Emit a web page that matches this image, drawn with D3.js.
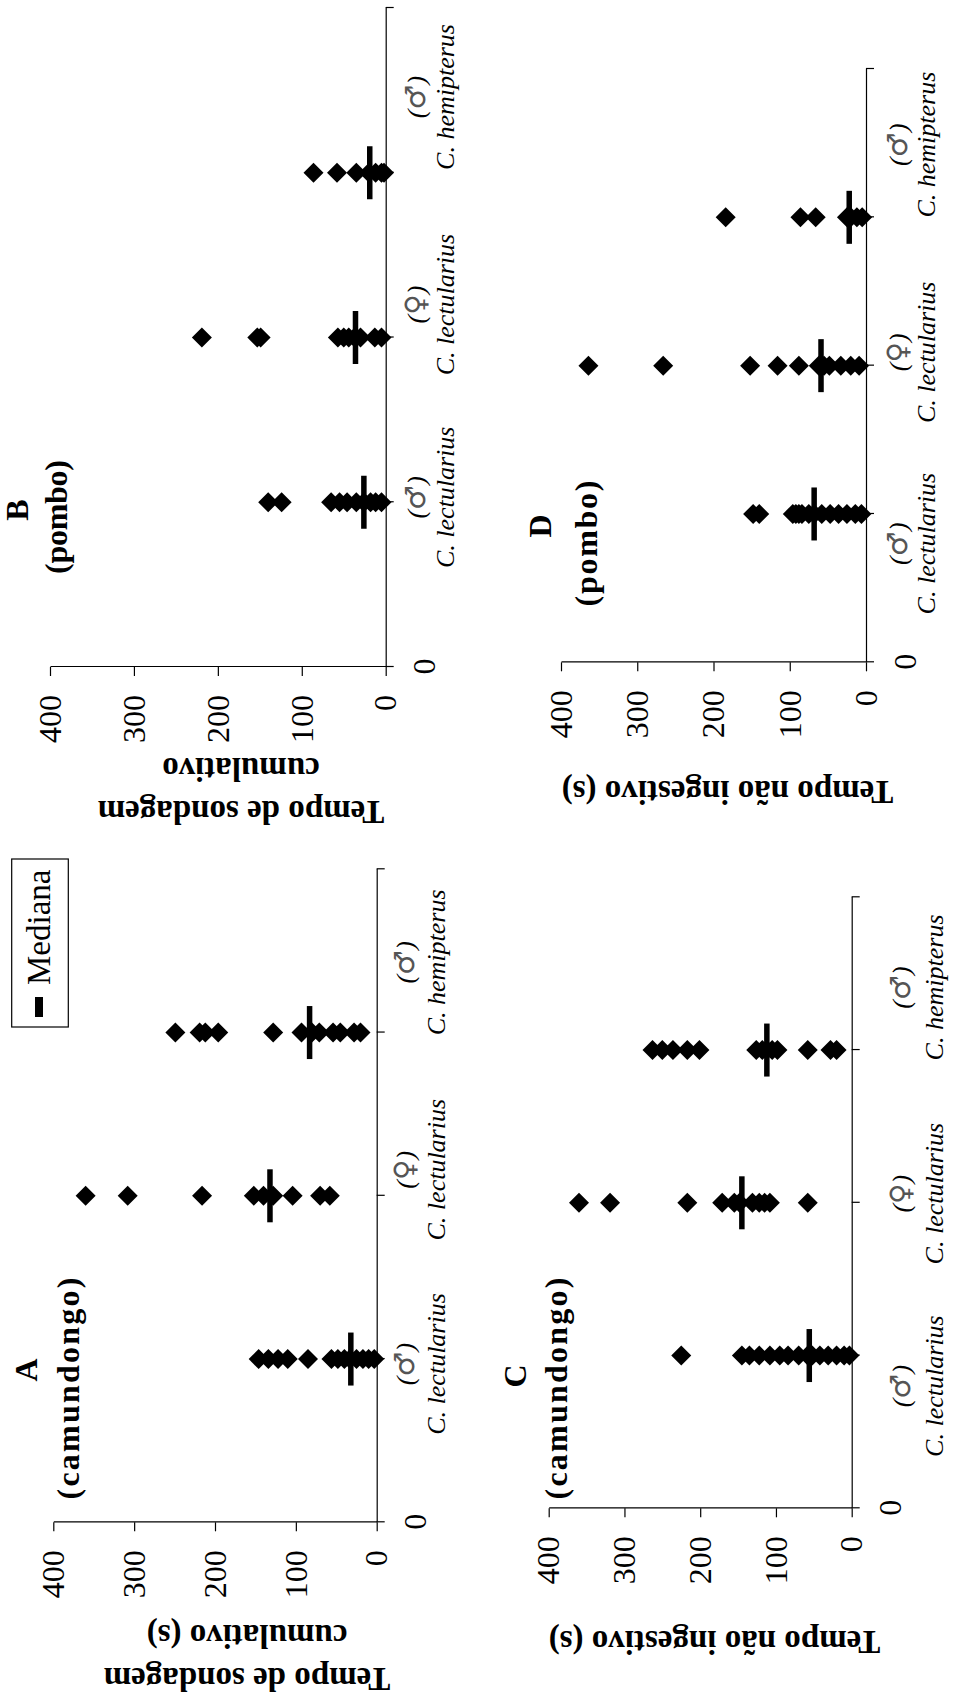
<!DOCTYPE html>
<html>
<head>
<meta charset="utf-8">
<script src="https://cdn.jsdelivr.net/npm/d3@7"></script>
<style>
  body { margin: 0; background: #fff; }
  svg { display: block; font-family: 'Liberation Serif', 'Times New Roman', serif; }
</style>
</head>
<body>
<svg id="fig" width="953" height="1705"></svg>
<script>
// categories (sexo + espécie)
const sexes = ['♂', '♀', '♂']
const species = ['C. lectularius', 'C. lectularius', 'C. hemipterus']
const valueTicks = [0, 100, 200, 300, 400]

// A - tempo de sondagem cumulativo, camundongo
const sondCamundongo = [
  [146, 134, 122, 110, 85, 56, 48, 40, 33, 25, 17, 10, 3],
  [360, 308, 216, 152, 140, 128, 104, 70, 58],
  [249, 219, 212, 196, 128, 93, 80, 71, 54, 45, 28, 20]
]
const sondCamundongoMed = [32, 132, 83]

// B - tempo de sondagem cumulativo, pombo
const sondPombo = [
  [140, 124, 65, 55, 46, 35, 26, 18, 12, 5],
  [219, 153, 149, 57, 50, 44, 37, 30, 13, 5],
  [86, 58, 35, 20, 12, 5, 2]
]
const sondPomboMed = [26, 36, 19]

// C - tempo não ingestivo, camundongo
const naoIngCamundongo = [
  [225, 145, 135, 122, 108, 95, 84, 70, 58, 52, 42, 31, 20, 10, 3],
  [360, 319, 217, 171, 155, 148, 131, 122, 115, 108, 58],
  [263, 250, 236, 217, 201, 126, 118, 112, 105, 98, 58, 28, 20]
]
const naoIngCamundongoMed = [56, 145, 112]

// D - tempo não ingestivo, pombo
const naoIngPombo = [
  [148, 140, 96, 92, 88, 84, 75, 68, 58, 47, 36, 25, 14, 6],
  [364, 266, 152, 116, 88, 62, 55, 48, 33, 20, 9],
  [184, 86, 66, 25, 20, 12, 5]
]
const naoIngPomboMed = [68, 59, 22]

// the whole figure is drawn upright and then turned a quarter to the left
const fig = d3.select('#fig')
fig.append('rect').attr('width', 953).attr('height', 1705).attr('fill', '#fff')
const root = fig.append('g').attr('transform', 'translate(0,1705) rotate(-90)')

const panels = [
  { id: 'A', host: '(camundongo)', values: sondCamundongo, medians: sondCamundongoMed,
    x0: 182.7, x4: 835.7, y0: 376.7, y400: 53.3,
    labelPos: [0.97, 2.16, 3.43], lab1: 29, lab2: 60,
    letter: [335, 37], hostPos: [316.5, 79], hostLen: 222,
    title: ['Tempo de sondagem', 'cumulativo (s)'], titleX: [25, 68.3], titleY: 247 },
  { id: 'B', host: '(pombo)', values: sondPombo, medians: sondPomboMed,
    x0: 1038, x4: 1697, y0: 385.7, y400: 50,
    labelPos: [1.03, 2.2, 3.46], lab1: 31, lab2: 60,
    letter: [1195, 28], hostPos: [1188, 67], hostLen: 114,
    title: ['Tempo de sondagem', 'cumulativo'], titleX: [892, 935], titleY: 241 },
  { id: 'C', host: '(camundongo)', values: naoIngCamundongo, medians: naoIngCamundongoMed,
    x0: 196.7, x4: 807.7, y0: 851.7, y400: 548.7,
    labelPos: [0.8, 2.06, 3.41], lab1: 50, lab2: 83,
    letter: [329, 526], hostPos: [316.5, 567], hostLen: 222,
    title: ['Tempo não ingestivo (s)'], titleX: [62], titleY: 714.5 },
  { id: 'D', host: '(pombo)', values: naoIngPombo, medians: naoIngPomboMed,
    x0: 1042.7, x4: 1636, y0: 866, y400: 561,
    labelPos: [0.8, 2.09, 3.49], lab1: 33, lab2: 61,
    letter: [1179, 551], hostPos: [1161.5, 597], hostLen: 126,
    title: ['Tempo não ingestivo (s)'], titleX: [912], titleY: 727.5 }
]

const diamond = 'M0,-10L10,0L0,10L-10,0Z'

function drawPanel (p) {
  const g = root.append('g').attr('class', 'panel-' + p.id)
  const x = d3.scaleLinear().domain([0, 4]).range([p.x0, p.x4])
  const y = d3.scaleLinear().domain([0, 400]).range([p.y0, p.y400])

  // axes
  const yAxis = g.append('g')
    .attr('transform', 'translate(' + p.x0 + ',0)')
    .call(d3.axisLeft(y).tickValues(valueTicks).tickSize(9).tickPadding(19).tickSizeOuter(0))
  const xAxis = g.append('g')
    .attr('transform', 'translate(0,' + p.y0 + ')')
    .call(d3.axisBottom(x).tickValues([0, 1, 2, 3, 4]).tickSize(8).tickPadding(19).tickSizeOuter(0)
      .tickFormat(d => d === 0 ? '0' : ''))
  for (const ax of [yAxis, xAxis]) {
    ax.attr('font-family', "'Liberation Serif', serif").attr('font-size', 32)
    ax.selectAll('path, line').attr('stroke', '#000').attr('stroke-width', 1.2)
    ax.selectAll('text').attr('fill', '#000')
  }

  // points
  p.values.forEach((vals, i) => {
    g.append('g').selectAll('path')
      .data(vals)
      .enter()
      .append('path')
      .attr('d', diamond)
      .attr('transform', v => 'translate(' + x(i + 1) + ',' + y(v) + ')')
      .attr('fill', '#000')
  })

  // medians
  g.selectAll('rect.med')
    .data(p.medians)
    .enter()
    .append('rect')
    .attr('class', 'med')
    .attr('x', (m, i) => x(i + 1) - 26.5)
    .attr('y', m => y(m) - 2.75)
    .attr('width', 53)
    .attr('height', 5.5)
    .attr('fill', '#000')

  // category labels
  species.forEach((s, i) => {
    const sx = g.append('text')
      .attr('x', x(p.labelPos[i]))
      .attr('y', p.y0 + p.lab1)
      .attr('dy', '0.32em')
      .attr('text-anchor', 'middle')
      .style('font-size', '26px')
      .style('font-style', 'italic')
    sx.append('tspan').text('(')
    sx.append('tspan')
      .style('font-family', "'DejaVu Sans', sans-serif")
      .style('font-style', 'normal')
      .style('font-size', '28px')
      .attr('fill', '#555')
      .text(sexes[i])
    sx.append('tspan').text(')')
    g.append('text')
      .attr('x', x(p.labelPos[i]))
      .attr('y', p.y0 + p.lab2)
      .attr('dy', '0.32em')
      .attr('text-anchor', 'middle')
      .style('font-size', '26px')
      .style('font-style', 'italic')
      .text(s)
  })

  // panel letter and host
  g.append('text')
    .attr('x', p.letter[0]).attr('y', p.letter[1])
    .attr('text-anchor', 'middle')
    .style('font-size', '32px').style('font-weight', 'bold')
    .text(p.id)
  g.append('text')
    .attr('x', p.hostPos[0]).attr('y', p.hostPos[1])
    .attr('text-anchor', 'middle')
    .attr('textLength', p.hostLen).attr('lengthAdjust', 'spacing')
    .style('font-size', '32px').style('font-weight', 'bold')
    .text(p.host)

  // value axis title
  p.title.forEach((t, k) => {
    g.append('text')
      .attr('transform', 'translate(' + p.titleX[k] + ',' + p.titleY + ') rotate(-90)')
      .attr('dy', '0.35em')
      .attr('text-anchor', 'middle')
      .style('font-size', '33px').style('font-weight', 'bold')
      .text(t)
  })
}

panels.forEach(drawPanel)

// legend
const legend = root.append('g').attr('class', 'legend')
legend.append('rect')
  .attr('x', 678).attr('y', 11.7).attr('width', 168).attr('height', 56.6)
  .attr('fill', '#fff').attr('stroke', '#000').attr('stroke-width', 1.2)
legend.append('rect')
  .attr('x', 688).attr('y', 35).attr('width', 20).attr('height', 8)
  .attr('fill', '#000')
legend.append('text')
  .attr('x', 720).attr('y', 50)
  .style('font-size', '33px')
  .text('Mediana')
</script>
</body>
</html>
